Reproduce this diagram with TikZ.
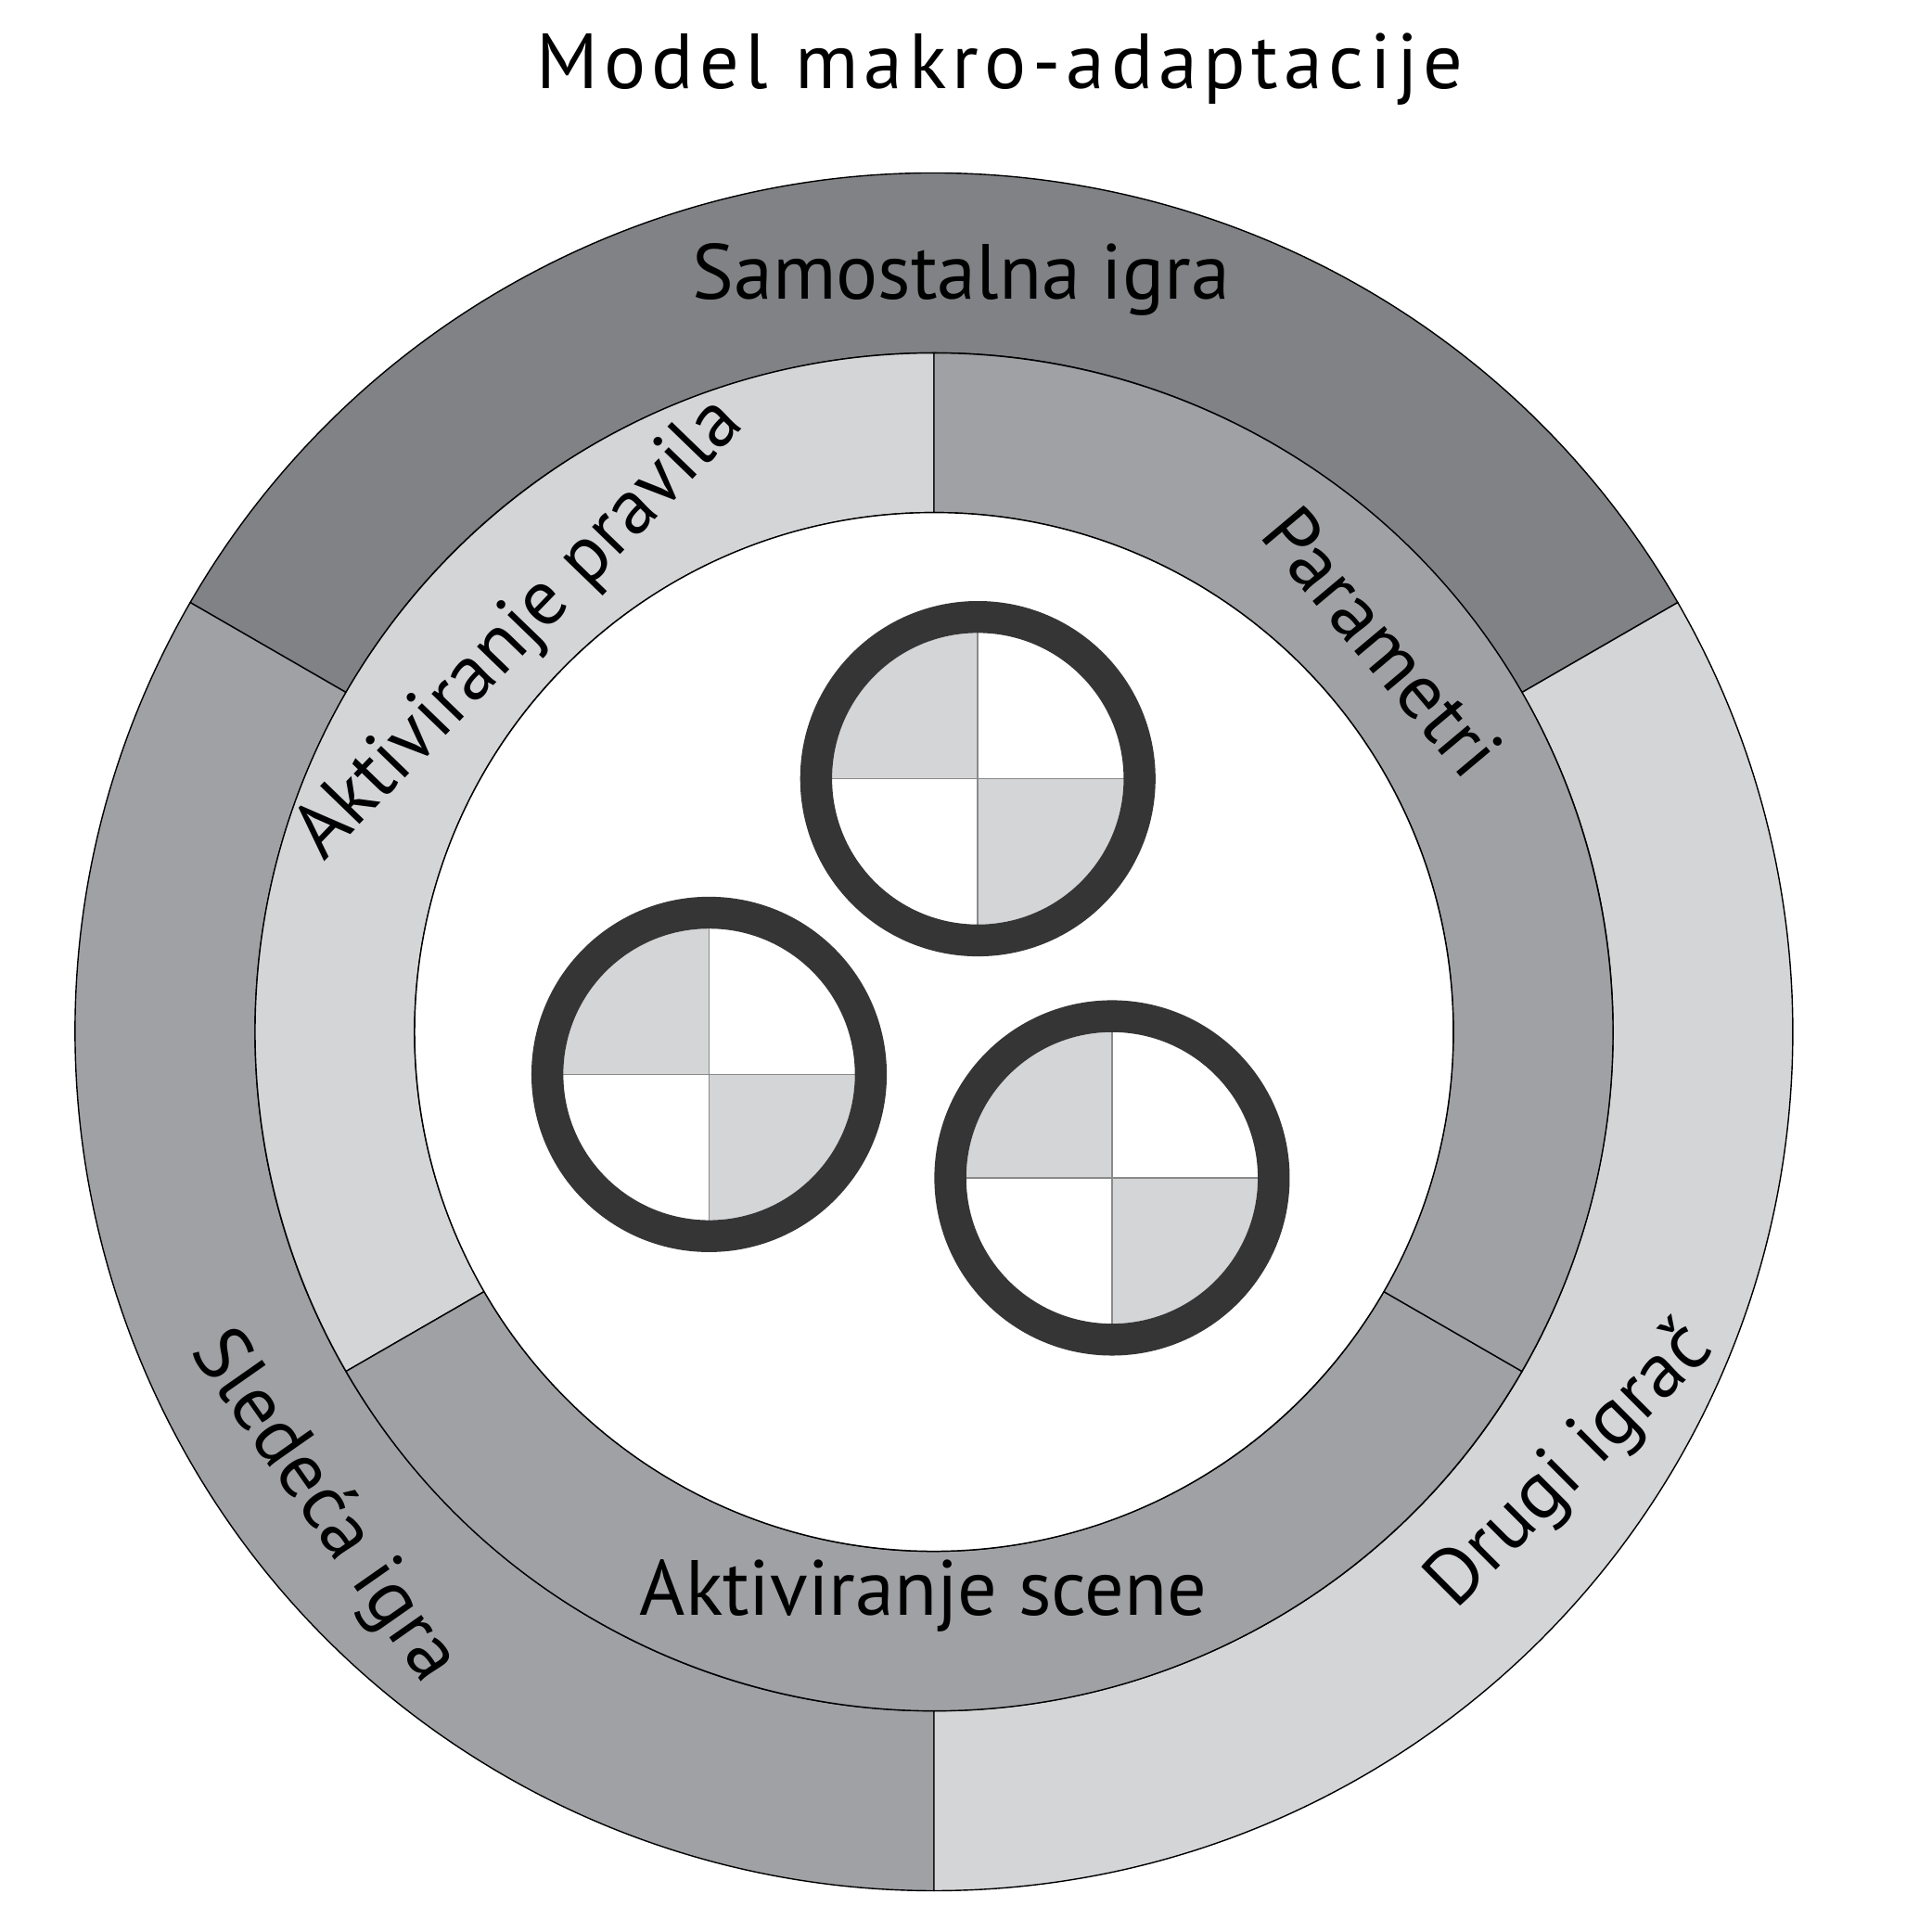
\documentclass[tikz,border=0pt]{standalone}
\usepackage{fontspec}
\setmainfont{PT Sans}
\definecolor{darkg}{HTML}{808285}
\definecolor{medg}{HTML}{A0A1A5}
\definecolor{lightg}{HTML}{D4D5D7}
\definecolor{ringc}{HTML}{353535}
\definecolor{crossc}{HTML}{8A8A8A}
\tikzset{
  sector/.style={draw=black, line width=0.4pt},
  lbl/.style={inner sep=0pt, anchor=base, font=\fontsize{24}{28}\selectfont},
  quad/.style={fill=lightg},
  crossline/.style={draw=crossc, line width=0.5pt},
  ringline/.style={draw=ringc, line width=0.344cm},
}
\begin{document}
\begin{tikzpicture}[x=0.013284cm, y=0.013284cm]
\useasboundingbox (0,0) rectangle (1568,1568);
\fill[white] (0,0) rectangle (1568,1568);
\def\Ro{697}\def\Rm{551}\def\Ri{421.5}
\begin{scope}[shift={(758,730.5)}]
  % outer ring
  \path[sector, fill=darkg] (30:\Ro) arc[start angle=30, end angle=150, radius=\Ro] -- (150:\Rm) arc[start angle=150, end angle=30, radius=\Rm] -- cycle;
  \path[sector, fill=medg] (150:\Ro) arc[start angle=150, end angle=270, radius=\Ro] -- (270:\Rm) arc[start angle=270, end angle=150, radius=\Rm] -- cycle;
  \path[sector, fill=lightg] (270:\Ro) arc[start angle=270, end angle=390, radius=\Ro] -- (390:\Rm) arc[start angle=390, end angle=270, radius=\Rm] -- cycle;
  % middle ring
  \path[sector, fill=lightg] (90:\Rm) arc[start angle=90, end angle=210, radius=\Rm] -- (210:\Ri) arc[start angle=210, end angle=90, radius=\Ri] -- cycle;
  \path[sector, fill=medg] (210:\Rm) arc[start angle=210, end angle=330, radius=\Rm] -- (330:\Ri) arc[start angle=330, end angle=210, radius=\Ri] -- cycle;
  \path[sector, fill=medg] (330:\Rm) arc[start angle=330, end angle=450, radius=\Rm] -- (450:\Ri) arc[start angle=450, end angle=330, radius=\Ri] -- cycle;
  \path[sector, fill=white] (0,0) circle[radius=\Ri];
\end{scope}
% target circles
\foreach \n/\px/\py in {c1/793.6/936, c2/575.5/696, c3/902.5/612}{
  \begin{scope}[shift={(\px,\py)}]
    \coordinate (\n) at (0,0);
    \fill[quad] (0,0) -- (90:118.3) arc[start angle=90, end angle=180, radius=118.3] -- cycle;
    \fill[quad] (0,0) -- (270:118.3) arc[start angle=270, end angle=360, radius=118.3] -- cycle;
    \draw[crossline] (-120,0) -- (120,0);
    \draw[crossline] (0,-120) -- (0,120);
    \draw[ringline] (0,0) circle[radius=131.25];
  \end{scope}
}
% labels
\node[lbl] (title) at (811.5,1496) {\addfontfeatures{LetterSpace=7.5}Model makro-adaptacije};
\node[lbl] (samo) at (780,1325.4) {Samostalna igra};
\node[lbl] (scene) at (749.5,257) {Aktiviranje scene};
\node[lbl, rotate=46] (pravila) at (434,1045.5) {Aktiviranje pravila};
\node[lbl, rotate=-50] (param) at (1105,1033) {Parametri};
\node[lbl, rotate=-55] (sled) at (249,335) {Sledeća igra};
\node[lbl, rotate=45] (drugi) at (1286.5,366) {Drugi igrač};
\end{tikzpicture}
\end{document}
